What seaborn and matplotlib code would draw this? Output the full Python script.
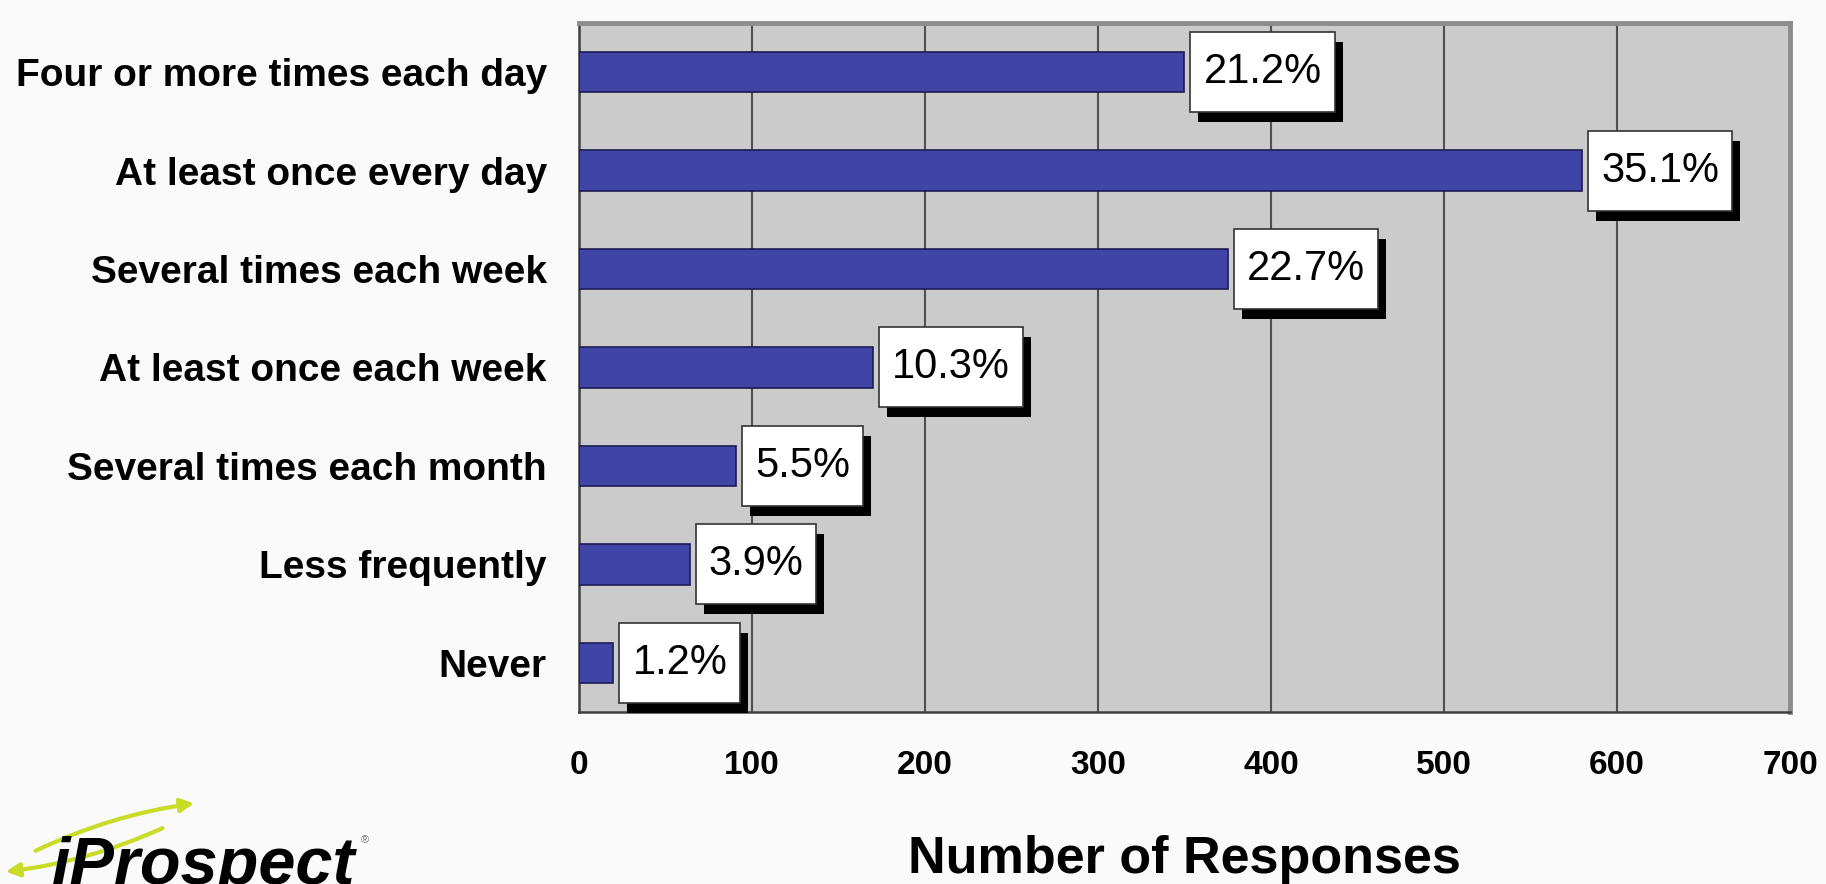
import pandas as pd
import seaborn as sns
import matplotlib.pyplot as plt
from matplotlib.patches import Rectangle
from matplotlib.transforms import IdentityTransform
import numpy as np

# data
categories = [
    "Four or more times each day",
    "At least once every day",
    "Several times each week",
    "At least once each week",
    "Several times each month",
    "Less frequently",
    "Never",
]
responses = [350, 580, 375, 170, 91, 64, 20]
percent_labels = ["21.2%", "35.1%", "22.7%", "10.3%", "5.5%", "3.9%", "1.2%"]
x_ticks = [0, 100, 200, 300, 400, 500, 600, 700]

df = pd.DataFrame({"category": categories, "responses": responses})

sns.set_style(
    "white",
    {"axes.facecolor": "#cbcbcb", "figure.facecolor": "#fafafa",
     "text.color": "black", "axes.labelcolor": "black",
     "xtick.color": "black", "ytick.color": "black"},
)
plt.rcParams["font.family"] = ["Liberation Sans", "DejaVu Sans"]

fig = plt.figure(figsize=(18.26, 8.84), dpi=100)
ax = fig.add_axes([0.317, 0.1946, 0.6633, 0.7794])

sns.barplot(
    data=df,
    x="responses",
    y="category",
    orient="h",
    color="#4045a5",
    edgecolor="#1c1c55",
    linewidth=1.2,
    width=0.41,
    saturation=1,
    ax=ax,
    zorder=3,
)

ax.set_xlim(0, 700)
ax.set_ylim(6.5, -0.5)
ax.set_xticks(x_ticks)
ax.set_xticklabels([str(t) for t in x_ticks], fontsize=24, fontweight="bold")

# category labels on major ticks (no tick mark), tick marks on boundaries
ax.set_yticks(np.arange(len(categories)))
ax.set_yticklabels(categories, fontsize=28, fontweight="bold")
ax.set_yticks(np.arange(-0.5, len(categories)), minor=True)
ax.tick_params(axis="y", which="major", length=0, pad=23)
ax.tick_params(axis="y", which="minor", length=7, width=1.2, color="#303030", direction="out")
ax.tick_params(axis="x", which="major", length=8.5, width=1.5, color="#303030",
               direction="out", pad=19)

ax.grid(True, axis="x", color="#505050", linewidth=1.5, zorder=1)
ax.set_axisbelow(True)

for side in ["left", "bottom"]:
    ax.spines[side].set_color("#404040")
    ax.spines[side].set_linewidth(1.8)
for side in ["top", "right"]:
    ax.spines[side].set_color("#8c8c8c")
    ax.spines[side].set_linewidth(3.5)

ax.set_ylabel("")
ax.set_xlabel("Number of Responses", fontsize=37.5, fontweight="bold", labelpad=39)

# value labels: text first, boxes and shadows are sized from it afterwards
gap_px, hpad_px, box_h_px = 6, 13, 80
value_texts = []
for i, (val, lab) in enumerate(zip(responses, percent_labels)):
    t = ax.annotate(
        lab, xy=(val, i), xytext=((gap_px + hpad_px) * 0.72, 0),
        textcoords="offset points", ha="left", va="center",
        fontsize=30, color="black", zorder=6, annotation_clip=False,
    )
    value_texts.append(t)

fig.canvas.draw()
renderer = fig.canvas.get_renderer()
for t in value_texts:
    bb = t.get_window_extent(renderer)
    x0 = bb.x0 - hpad_px
    w = bb.width + 2 * hpad_px
    yc = (bb.y0 + bb.y1) / 2
    y0 = yc - box_h_px / 2
    ax.add_patch(Rectangle((x0 + 8, y0 - 10), w, box_h_px, transform=IdentityTransform(),
                           facecolor="black", edgecolor="none", zorder=4, clip_on=False))
    ax.add_patch(Rectangle((x0, y0), w, box_h_px, transform=IdentityTransform(),
                           facecolor="white", edgecolor="#333333", linewidth=1.2,
                           zorder=5, clip_on=False))

# iProspect logo
fig.text(52 / 1826, 0.0, "iProspect", fontsize=48, fontweight="bold",
         fontstyle="italic", color="black", ha="left", va="baseline")
fig.text(365 / 1826, 1 - 840 / 884, "\u00ae", fontsize=8, color="#777777",
         ha="center", va="center")
swoosh = "#c8dc28"
arrow_kw = dict(arrowstyle="-|>,head_length=0.8,head_width=0.4", color=swoosh,
                lw=3, connectionstyle="arc3,rad=-0.08")
ax.annotate("", xy=(197, 81), xytext=(33, 32), xycoords="figure pixels",
            textcoords="figure pixels", annotation_clip=False, arrowprops=arrow_kw)
ax.annotate("", xy=(3, 12), xytext=(165, 57), xycoords="figure pixels",
            textcoords="figure pixels", annotation_clip=False, arrowprops=arrow_kw)

fig.savefig("out.png", dpi=100, facecolor=fig.get_facecolor())
